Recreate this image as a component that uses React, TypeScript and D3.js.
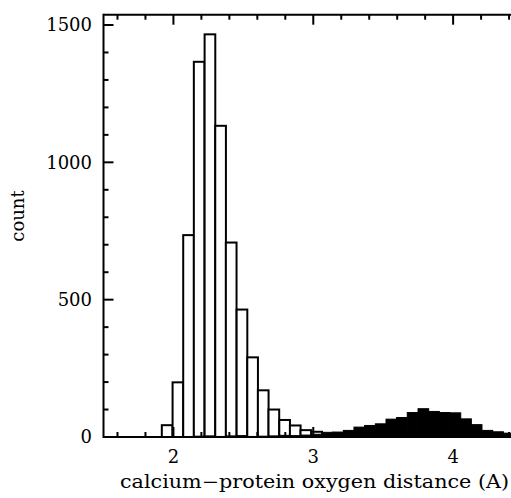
import { scaleLinear } from 'd3'

// histogram bins (left edge, Å) shared by both series
const binStarts = [
  1.917, 1.994, 2.070, 2.146, 2.223, 2.299, 2.375, 2.452, 2.528, 2.604, 2.680,
  2.757, 2.833, 2.909, 2.986, 3.062, 3.138, 3.215, 3.291, 3.367, 3.444, 3.520,
  3.596, 3.672, 3.749, 3.825, 3.901, 3.978, 4.054, 4.130, 4.207, 4.283, 4.359,
]
const binWidth = 0.0763

// open bars
const openCounts = [
  43, 199, 735, 1366, 1466, 1133, 708, 464, 290, 170, 100,
  62, 42, 25, 19, 0, 0, 0, 0, 0, 0, 0,
  0, 0, 0, 0, 0, 0, 0, 0, 0, 0, 0,
]
// filled (black) bars
const filledCounts = [
  0, 0, 0, 3, 4, 2, 4, 5, 2, 3, 4,
  6, 5, 7, 10, 17, 18, 24, 36, 42, 48, 65,
  71, 89, 103, 93, 89, 88, 66, 45, 24, 19, 14,
]

const xTicks = [2, 3, 4]
const yTicks = [0, 500, 1000, 1500]
const xTitle = 'calcium\u2212protein oxygen distance (A)'
const yTitle = 'count'

const App = () => {
  const width = 511
  const height = 498
  const left = 103.5
  const top = 14.7
  const bottom = 437

  const x = scaleLinear().domain([1.5, 4.5]).range([left, left + 3 * 139.85])
  const y = scaleLinear().domain([0, 1537.5]).range([bottom, top])

  const font = { fontFamily: '"DejaVu Serif", serif', fontSize: 18 }

  const xMinor = x.ticks(15).filter(t => !xTicks.some(m => Math.abs(m - t) < 1e-6))
  const yMinor = y.ticks(15).filter(t => !yTicks.some(m => Math.abs(m - t) < 1e-6))

  return (
    <svg width={width} height={height} style={{ position: 'absolute', left: 0, top: 0, background: '#fff' }}>
      {/* open histogram */}
      {binStarts.map((b, i) => openCounts[i] > 0 && (
        <rect key={'o' + i} x={x(b)} y={y(openCounts[i])}
          width={x(b + binWidth) - x(b)} height={y(0) - y(openCounts[i])}
          fill='#fff' stroke='#000' strokeWidth={2} />
      ))}
      {/* filled histogram */}
      {binStarts.map((b, i) => filledCounts[i] > 0 && (
        <rect key={'f' + i} x={x(b)} y={y(filledCounts[i])}
          width={x(b + binWidth) - x(b)} height={y(0) - y(filledCounts[i])}
          fill='#000' stroke='#000' strokeWidth={1} />
      ))}

      {/* frame */}
      <g stroke='#000' strokeWidth={2} fill='none'>
        <line x1={left} x2={width + 2} y1={bottom} y2={bottom} />
        <line x1={left} x2={width + 2} y1={top} y2={top} />
        <line x1={left} x2={left} y1={top - 1} y2={bottom + 1} />

        {xTicks.map(t => (
          <g key={'xt' + t}>
            <line x1={x(t)} x2={x(t)} y1={bottom} y2={bottom - 10} />
            <line x1={x(t)} x2={x(t)} y1={top} y2={top + 10} />
          </g>
        ))}
        {xMinor.map(t => (
          <g key={'xm' + t}>
            <line x1={x(t)} x2={x(t)} y1={bottom} y2={bottom - 5} />
            <line x1={x(t)} x2={x(t)} y1={top} y2={top + 5} />
          </g>
        ))}
        {yTicks.map(t => (
          <line key={'yt' + t} x1={left} x2={left + 10} y1={y(t)} y2={y(t)} />
        ))}
        {yMinor.map(t => (
          <line key={'ym' + t} x1={left} x2={left + 5} y1={y(t)} y2={y(t)} />
        ))}
      </g>

      {/* labels */}
      {xTicks.map(t => (
        <text key={'xl' + t} x={x(t)} y={463} textAnchor='middle' style={font}>{t}</text>
      ))}
      {yTicks.map(t => (
        <text key={'yl' + t} x={92} y={y(t)} dy='0.36em' textAnchor='end' style={font}>{t}</text>
      ))}
      <text x={314.5} y={488} textAnchor='middle' textLength={389} lengthAdjust='spacingAndGlyphs'
        style={font}>{xTitle}</text>
      <text transform='translate(24,216) rotate(-90)' textAnchor='middle' style={font}>{yTitle}</text>
    </svg>
  )
}

export default App
